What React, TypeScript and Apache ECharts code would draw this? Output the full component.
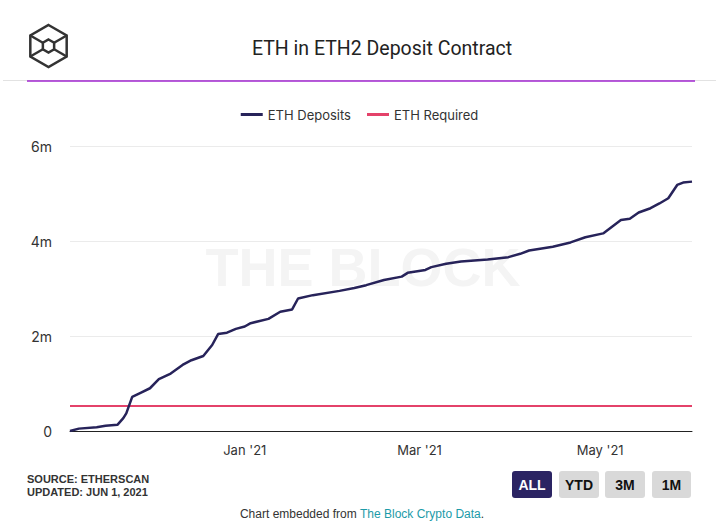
import React, { useEffect, useRef } from "react";
import * as echarts from "echarts";

const depositDates = [
  "2020-11-03", "2020-11-06", "2020-11-12", "2020-11-15", "2020-11-19", "2020-11-21",
  "2020-11-22", "2020-11-24", "2020-11-27", "2020-11-30", "2020-12-03", "2020-12-07",
  "2020-12-11", "2020-12-14", "2020-12-18", "2020-12-21", "2020-12-23", "2020-12-26",
  "2020-12-29", "2021-01-01", "2021-01-03", "2021-01-09", "2021-01-13", "2021-01-17",
  "2021-01-19", "2021-01-24", "2021-02-02", "2021-02-07", "2021-02-11", "2021-02-17",
  "2021-02-23", "2021-02-25", "2021-03-03", "2021-03-05", "2021-03-10", "2021-03-15",
  "2021-03-24", "2021-03-31", "2021-04-04", "2021-04-07", "2021-04-15", "2021-04-21",
  "2021-04-26", "2021-05-02", "2021-05-05", "2021-05-08", "2021-05-11", "2021-05-14",
  "2021-05-18", "2021-05-21", "2021-05-24", "2021-05-27", "2021-05-29", "2021-06-01",
];
// million ETH
const depositValues = [
  0.0, 0.05, 0.08, 0.11, 0.13, 0.27,
  0.37, 0.72, 0.81, 0.9, 1.09, 1.21,
  1.39, 1.49, 1.58, 1.81, 2.04, 2.07,
  2.15, 2.2, 2.27, 2.36, 2.51, 2.56,
  2.79, 2.86, 2.95, 3.01, 3.07, 3.18,
  3.25, 3.33, 3.39, 3.45, 3.52, 3.57,
  3.61, 3.66, 3.73, 3.8, 3.88, 3.97,
  4.08, 4.16, 4.3, 4.44, 4.47, 4.6,
  4.69, 4.79, 4.9, 5.18, 5.23, 5.25,
];
const requiredDates = ["2020-11-03", "2021-06-01"];
const requiredValues = [0.524288, 0.524288];
const xTickDates = ["2021-01-01", "2021-03-01", "2021-05-01"];
const monthNames = ["Jan", "Feb", "Mar", "Apr", "May", "Jun", "Jul", "Aug", "Sep", "Oct", "Nov", "Dec"];
const buttonLabels = ["ALL", "YTD", "3M", "1M"];

const ts = (s: string) => new Date(s + "T00:00:00Z").getTime();

export default function App() {
  const ref = useRef<HTMLDivElement>(null);
  useEffect(() => {
    if (!ref.current) return;
    const chart = echarts.init(ref.current, null, { renderer: "svg" });

    const cx = 48.5, cy = 46, R = 21, r = 6.5;
    const hex = (rad: number) =>
      [-90, -30, 30, 90, 150, 210].map((a) => [
        cx + rad * Math.cos((a * Math.PI) / 180),
        cy + rad * Math.sin((a * Math.PI) / 180),
      ]);
    const outer = hex(R);
    const inner = hex(r);
    const logoStyle = { stroke: "#333", lineWidth: 2.5, fill: "none" };
    const logo: any[] = [
      { type: "polygon", shape: { points: outer }, style: logoStyle },
      { type: "polygon", shape: { points: inner }, style: logoStyle },
      ...[1, 2, 4, 5].map((i) => ({
        type: "line",
        shape: { x1: outer[i][0], y1: outer[i][1], x2: inner[i][0], y2: inner[i][1] },
        style: logoStyle,
      })),
    ];

    const btnX = [512, 559, 605, 652];
    const btnW = [40, 40, 40, 39];
    const buttons: any[] = [];
    buttonLabels.forEach((lbl, i) => {
      buttons.push({
        type: "rect",
        shape: { x: btnX[i], y: 471, width: btnW[i], height: 27, r: 3 },
        style: { fill: i === 0 ? "#2b2463" : "#d9d9d9" },
      });
      buttons.push({
        type: "text",
        x: btnX[i] + btnW[i] / 2,
        y: 484.5,
        style: {
          text: lbl,
          fill: i === 0 ? "#fff" : "#111",
          font: "bold 14px 'Liberation Sans', Arial, sans-serif",
          align: "center",
          verticalAlign: "middle",
        },
      });
    });

    chart.setOption({
      animation: false,
      backgroundColor: "#fff",
      legend: {
        top: 108,
        left: "center",
        icon: "rect",
        itemWidth: 22,
        itemHeight: 3,
        itemGap: 16,
        padding: [0, 5],
        textStyle: { fontFamily: "Inter", fontSize: 13, color: "#333" },
        data: ["ETH Deposits", "ETH Required"],
      },
      grid: { left: 70, right: 27, top: 146, bottom: 98 },
      xAxis: {
        type: "value",
        min: ts("2020-11-03"),
        max: ts("2021-06-01"),
        axisLine: { show: true, onZero: false, lineStyle: { color: "#222", width: 1 } },
        axisTick: { show: false },
        splitLine: { show: false },
        axisLabel: {
          customValues: xTickDates.map(ts),
          formatter: (v: number) => {
            const d = new Date(v);
            return monthNames[d.getUTCMonth()] + " '" + String(d.getUTCFullYear()).slice(2);
          },
          fontFamily: "Inter",
          fontSize: 13,
          color: "#333",
          margin: 12,
        },
      },
      yAxis: {
        type: "value",
        min: 0,
        max: 6,
        interval: 2,
        axisLine: { show: false },
        axisTick: { show: false },
        splitLine: { lineStyle: { color: "#ebebeb", width: 1 } },
        axisLabel: {
          formatter: (v: number) => (v === 0 ? "0" : v + "m"),
          fontFamily: "Inter",
          fontSize: 14,
          color: "#333",
          margin: 18,
        },
      },
      series: [
        {
          name: "ETH Deposits",
          type: "line",
          showSymbol: false,
          symbol: "none",
          color: "#27235a",
          lineStyle: { width: 2.5, color: "#27235a" },
          data: depositDates.map((d, i) => [ts(d), depositValues[i]]),
          z: 3,
        },
        {
          name: "ETH Required",
          type: "line",
          showSymbol: false,
          symbol: "none",
          color: "#e4426a",
          lineStyle: { width: 2, color: "#e4426a" },
          data: requiredDates.map((d, i) => [ts(d), requiredValues[i]]),
          z: 2,
        },
      ],
      graphic: [
        {
          type: "text",
          x: 363,
          y: 267,
          z: -10,
          style: {
            text: "THE BLOCK",
            fill: "#f4f4f4",
            font: "bold 54px 'Liberation Sans', Arial, sans-serif",
            align: "center",
            verticalAlign: "middle",
          },
        },
        ...logo,
        {
          type: "text",
          x: 382,
          y: 48,
          style: {
            text: "ETH in ETH2 Deposit Contract",
            fill: "#222",
            font: "19.5px Roboto, sans-serif",
            align: "center",
            verticalAlign: "middle",
          },
        },
        {
          type: "line",
          shape: { x1: 3, y1: 80.5, x2: 716, y2: 80.5 },
          style: { stroke: "#e2e2e2", lineWidth: 1 },
        },
        {
          type: "line",
          shape: { x1: 27, y1: 81, x2: 695, y2: 81 },
          style: { stroke: "#a126cf", lineWidth: 1.5 },
        },
        {
          type: "text",
          x: 27,
          y: 479,
          style: {
            text: "SOURCE: ETHERSCAN",
            fill: "#333",
            font: "bold 11px 'Liberation Sans', Arial, sans-serif",
            verticalAlign: "middle",
          },
        },
        {
          type: "text",
          x: 27,
          y: 492,
          style: {
            text: "UPDATED: JUN 1, 2021",
            fill: "#333",
            font: "bold 11px 'Liberation Sans', Arial, sans-serif",
            verticalAlign: "middle",
          },
        },
        ...buttons,
        {
          type: "text",
          x: 362,
          y: 514,
          style: {
            text: "{a|Chart embedded from }{b|The Block Crypto Data}{a|.}",
            align: "center",
            verticalAlign: "middle",
            rich: {
              a: { fill: "#333", fontSize: 12, fontFamily: "'Liberation Sans', Arial, sans-serif" },
              b: { fill: "#1c9ba8", fontSize: 12, fontFamily: "'Liberation Sans', Arial, sans-serif" },
            },
          },
        },
      ],
    });
    return () => chart.dispose();
  }, []);
  return (
    <div
      ref={ref}
      style={{ position: "fixed", left: 0, top: 0, width: 719, height: 529, background: "#fff" }}
    />
  );
}
